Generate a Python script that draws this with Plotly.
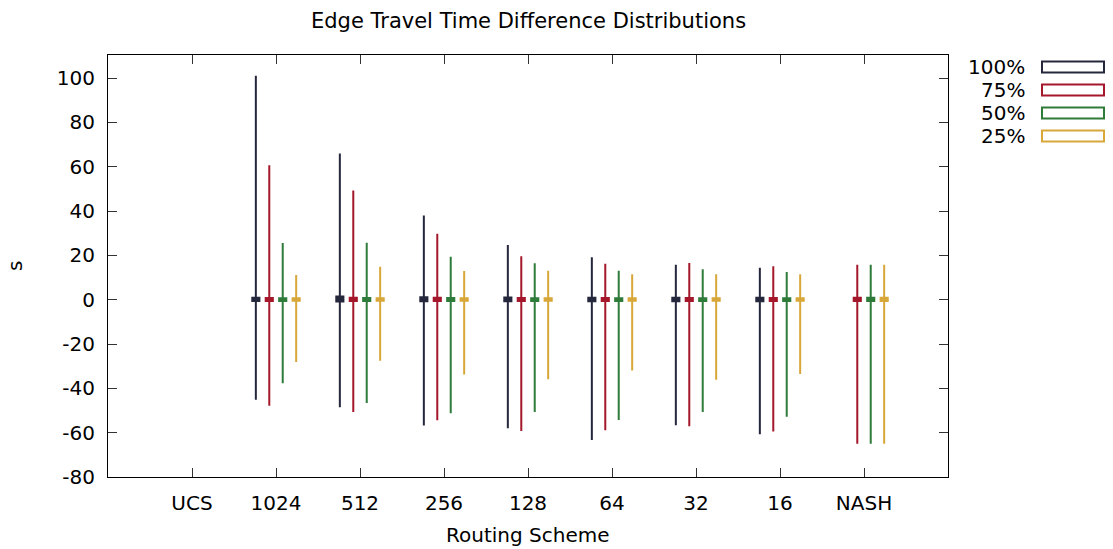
import plotly.graph_objects as go

categories = ["UCS", "1024", "512", "256", "128", "64", "32", "16", "NASH"]
series_names = ["100%", "75%", "50%", "25%"]
colors = ["#25283d", "#a5182b", "#2f7b3a", "#d8a73a"]
y_ticks = [-80, -60, -40, -20, 0, 20, 40, 60, 80, 100]
y_tick_labels = ["-80", "-60", "-40", "-20", "0", "20", "40", "60", "80", "100"]

max_100 = [None, 101.0, 66.0, 38.0, 24.7, 19.1, 15.8, 14.4, None]
max_75 = [None, 60.7, 49.3, 29.8, 19.6, 16.2, 16.5, 15.1, 15.8]
max_50 = [None, 25.6, 25.7, 19.4, 16.4, 13.1, 13.7, 12.5, 15.8]
max_25 = [None, 11.1, 14.9, 12.9, 13.1, 11.5, 11.5, 11.5, 15.8]

min_100 = [None, -45.2, -48.5, -56.8, -58.0, -63.3, -56.7, -60.7, None]
min_75 = [None, -47.8, -50.7, -54.4, -59.2, -58.9, -57.1, -59.5, -65.0]
min_50 = [None, -37.7, -46.6, -51.2, -50.7, -54.3, -50.7, -52.8, -65.0]
min_25 = [None, -28.1, -27.5, -33.8, -35.9, -32.0, -36.1, -33.5, -65.0]

q1_100 = [None, -0.6, -0.8, -0.7, -0.7, -0.7, -0.7, -0.7, None]
q3_100 = [None, 0.9, 1.4, 1.1, 1.0, 0.9, 0.9, 0.9, None]
q1_75 = [None, -0.6, -0.6, -0.6, -0.6, -0.6, -0.6, -0.6, -0.6]
q3_75 = [None, 0.8, 0.9, 0.9, 0.8, 0.8, 0.8, 0.8, 0.9]
q1_50 = [None, -0.6, -0.6, -0.6, -0.6, -0.6, -0.6, -0.6, -0.6]
q3_50 = [None, 0.7, 0.8, 0.8, 0.7, 0.7, 0.7, 0.7, 0.9]
q1_25 = [None, -0.5, -0.5, -0.5, -0.5, -0.5, -0.5, -0.5, -0.6]
q3_25 = [None, 0.6, 0.6, 0.6, 0.6, 0.6, 0.6, 0.6, 0.9]

maxs = [max_100, max_75, max_50, max_25]
mins = [min_100, min_75, min_50, min_25]
q1s = [q1_100, q1_75, q1_50, q1_25]
q3s = [q3_100, q3_75, q3_50, q3_25]
offsets = [-0.24, -0.08, 0.08, 0.24]

W, H = 1113, 549
L, R, T, B = 108, 948, 55, 477
FONT = "DejaVu Sans"
FS = 20


def px(x):
    return (x - L) / (R - L)


def py(y):
    return (B - y) / (B - T)


fig = go.Figure()
for s in range(4):
    xs, q1, q3, med, lo, hi = [], [], [], [], [], []
    for i in range(len(categories)):
        if maxs[s][i] is None:
            continue
        xs.append(i + 1 + offsets[s])
        q1.append(q1s[s][i])
        q3.append(q3s[s][i])
        med.append((q1s[s][i] + q3s[s][i]) / 2)
        lo.append(mins[s][i])
        hi.append(maxs[s][i])
    fig.add_trace(go.Box(
        x=xs, q1=q1, q3=q3, median=med, lowerfence=lo, upperfence=hi,
        name=series_names[s], width=0.085, whiskerwidth=0,
        line=dict(color=colors[s], width=2), fillcolor=colors[s],
        showlegend=False, boxpoints=False,
    ))

shapes = []
annotations = []
for s in range(4):
    yc = 67 + 23 * s
    shapes.append(dict(
        type="rect", xref="paper", yref="paper",
        x0=px(1042), x1=px(1104), y0=py(yc - 5.5), y1=py(yc + 5.5),
        line=dict(color=colors[s], width=2), fillcolor="rgba(0,0,0,0)",
    ))
    annotations.append(dict(
        text=series_names[s], xref="paper", yref="paper",
        x=px(1027), y=py(yc), xanchor="right", yanchor="middle",
        showarrow=False, font=dict(family=FONT, size=FS, color="black"),
    ))

annotations.append(dict(
    text="Routing Scheme", xref="paper", yref="paper",
    x=0.5, y=py(535), xanchor="center", yanchor="middle",
    showarrow=False, font=dict(family=FONT, size=FS, color="black"),
))
annotations.append(dict(
    text="s", xref="paper", yref="paper", textangle=-90,
    x=px(15), y=0.5, xanchor="center", yanchor="middle",
    showarrow=False, font=dict(family=FONT, size=FS, color="black"),
))
annotations.append(dict(
    text="Edge Travel Time Difference Distributions", xref="paper", yref="paper",
    x=0.5, y=py(21), xanchor="center", yanchor="middle",
    showarrow=False, font=dict(family=FONT, size=21, color="black"),
))

fig.update_layout(
    width=W, height=H,
    margin=dict(l=L, r=W - R, t=T, b=H - B),
    paper_bgcolor="white", plot_bgcolor="white",
    font=dict(family=FONT, size=FS, color="black"),
    boxmode="overlay",
    shapes=shapes, annotations=annotations,
    xaxis=dict(
        range=[0, 10], tickvals=list(range(1, len(categories) + 1)), ticktext=categories,
        showgrid=False, zeroline=False, showline=True, linecolor="black", linewidth=1,
        mirror="allticks", ticks="inside", ticklen=9, tickcolor="#333", tickwidth=1,
        ticklabelstandoff=8,
    ),
    yaxis=dict(
        range=[-80, 110.4], tickvals=y_ticks, ticktext=y_tick_labels,
        showgrid=False, zeroline=False, showline=True, linecolor="black", linewidth=1,
        mirror="allticks", ticks="inside", ticklen=9, tickcolor="#333", tickwidth=1,
        ticklabelstandoff=8,
    ),
)

fig.write_html("out.html")
